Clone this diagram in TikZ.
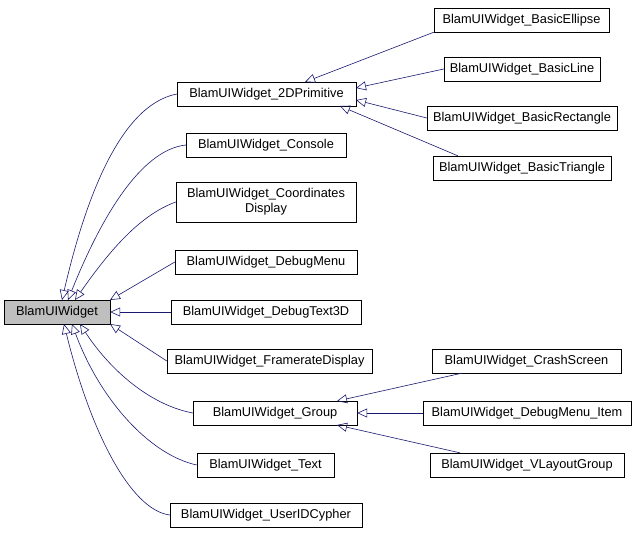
\documentclass[tikz,border=0pt]{standalone}
\usepackage{fontspec}
\setmainfont{Liberation Sans}
\usetikzlibrary{arrows.meta}
\begin{document}
\begin{tikzpicture}[x=1pt,y=-1pt,
  box/.style={draw=black,fill=white,inner sep=0pt,font=\fontsize{12.8}{15}\selectfont,align=center},
  edge/.style={draw=midnightblue,line width=0.6pt,{Triangle[open,length=10pt,width=9pt]}-}]
\definecolor{midnightblue}{RGB}{25,25,112}
\useasboundingbox (0,0) rectangle (640,535);
\node[box,fill=black!25,minimum width=106,minimum height=24] (root) at (57,312) {BlamUIWidget};
\node[box,minimum width=179,minimum height=24] (prim) at (266.5,94) {BlamUIWidget\_2DPrimitive};
\node[box,minimum width=160,minimum height=24] (cons) at (266,145) {BlamUIWidget\_Console};
\node[box,minimum width=180,minimum height=40] (coord) at (266,202) {BlamUIWidget\_Coordinates\\Display};
\node[box,minimum width=182,minimum height=24] (dbg) at (266,262) {BlamUIWidget\_DebugMenu};
\node[box,minimum width=190,minimum height=24] (d3) at (266,312) {BlamUIWidget\_DebugText3D};
\node[box,minimum width=205,minimum height=24] (fr) at (269.5,361) {BlamUIWidget\_FramerateDisplay};
\node[box,minimum width=164,minimum height=24] (grp) at (275,413) {BlamUIWidget\_Group};
\node[box,minimum width=137,minimum height=24] (txt) at (265.5,465) {BlamUIWidget\_Text};
\node[box,minimum width=192,minimum height=24] (uid) at (266,515) {BlamUIWidget\_UserIDCypher};
\node[box,minimum width=175,minimum height=24] (ell) at (521.5,20) {BlamUIWidget\_BasicEllipse};
\node[box,minimum width=156,minimum height=24] (lin) at (522,69) {BlamUIWidget\_BasicLine};
\node[box,minimum width=190,minimum height=24] (rec) at (522,118) {BlamUIWidget\_BasicRectangle};
\node[box,minimum width=178,minimum height=24] (tri) at (522,168) {BlamUIWidget\_BasicTriangle};
\node[box,minimum width=189,minimum height=24] (cr) at (526.5,361) {BlamUIWidget\_CrashScreen};
\node[box,minimum width=208,minimum height=24] (dmi) at (527,413) {BlamUIWidget\_DebugMenu\_Item};
\node[box,minimum width=194,minimum height=24] (vl) at (527,465) {BlamUIWidget\_VLayoutGroup};
\coordinate (r1) at (62,300); \coordinate (r2) at (68,300); \coordinate (r3) at (75,300);
\coordinate (r4) at (110,300); \coordinate (r8) at (80,324); \coordinate (r9) at (72,324); \coordinate (r10) at (64,324);
\coordinate (r6) at (110,324);
\path[edge] (r1) .. controls (85,200) and (120,105) .. (prim.west);
\path[edge] (r2) .. controls (100,220) and (140,150) .. (cons.west);
\path[edge] (r3) .. controls (110,250) and (140,215) .. (coord.west);
\path[edge] (r4) -- (dbg.west);
\path[edge] (root.east) -- (d3.west);
\path[edge] (r6) -- (fr.west);
\path[edge] (r8) .. controls (110,370) and (150,405) .. (grp.west);
\path[edge] (r9) .. controls (100,400) and (150,455) .. (txt.west);
\path[edge] (r10) .. controls (90,430) and (130,510) .. (uid.west);
\coordinate (p1) at (305,82); \coordinate (p2) at (356,88); \coordinate (p3) at (356,100); \coordinate (p4) at (340,106);
\path[edge] (p1) -- (ell.south west);
\path[edge] (p2) -- (lin.west);
\path[edge] (p3) -- (rec.west);
\path[edge] (p4) -- ([xshift=25pt]tri.north west);
\coordinate (g1) at (337,401); \coordinate (g3) at (337,425);
\path[edge] (g1) -- ([xshift=30pt]cr.south west);
\path[edge] (grp.east) -- (dmi.west);
\path[edge] (g3) -- ([xshift=30pt]vl.north west);
\end{tikzpicture}
\end{document}
